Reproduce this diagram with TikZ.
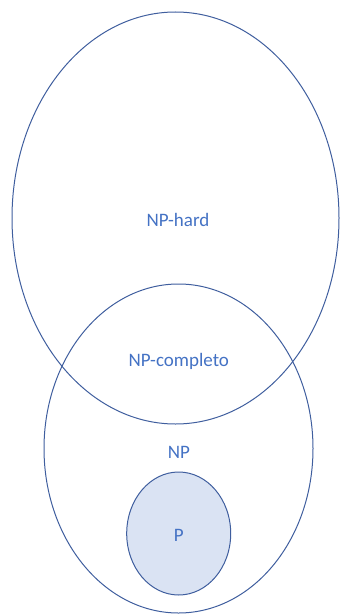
\documentclass[tikz,border=0pt]{standalone}
\usepackage{fontspec}
\setmainfont{Carlito}
\usetikzlibrary{shapes.geometric}
\definecolor{setline}{HTML}{3F5E9E}
\definecolor{setfill}{HTML}{DAE3F3}
\definecolor{labelblue}{HTML}{4472C4}
\begin{document}
\begin{tikzpicture}[x=1pt,y=-1pt,
  setshape/.style={ellipse, draw=setline, line width=1pt, inner sep=0pt, outer sep=0pt},
  setlabel/.style={text=labelblue, font=\fontsize{19}{22}\selectfont, anchor=base, inner sep=0pt}]
  \useasboundingbox (0,0) rectangle (340,615);
  % NP-hard region
  \node[setshape, minimum width=327pt, minimum height=412pt] (nphard) at (175.5,218) {};
  % NP region
  \node[setshape, minimum width=269pt, minimum height=329pt] (np) at (178.5,448.5) {};
  % P region
  \node[setshape, fill=setfill, minimum width=104pt, minimum height=123pt] (p) at (178.7,533.5) {};
  % labels
  \node[setlabel] (lhard) at (178,226) {NP-hard};
  \node[setlabel] (lcomp) at (178.8,366.5) {NP-completo};
  \node[setlabel] (lnp) at (179,458) {NP};
  \node[setlabel] (lp) at (178.8,541.5) {P};
\end{tikzpicture}
\end{document}
